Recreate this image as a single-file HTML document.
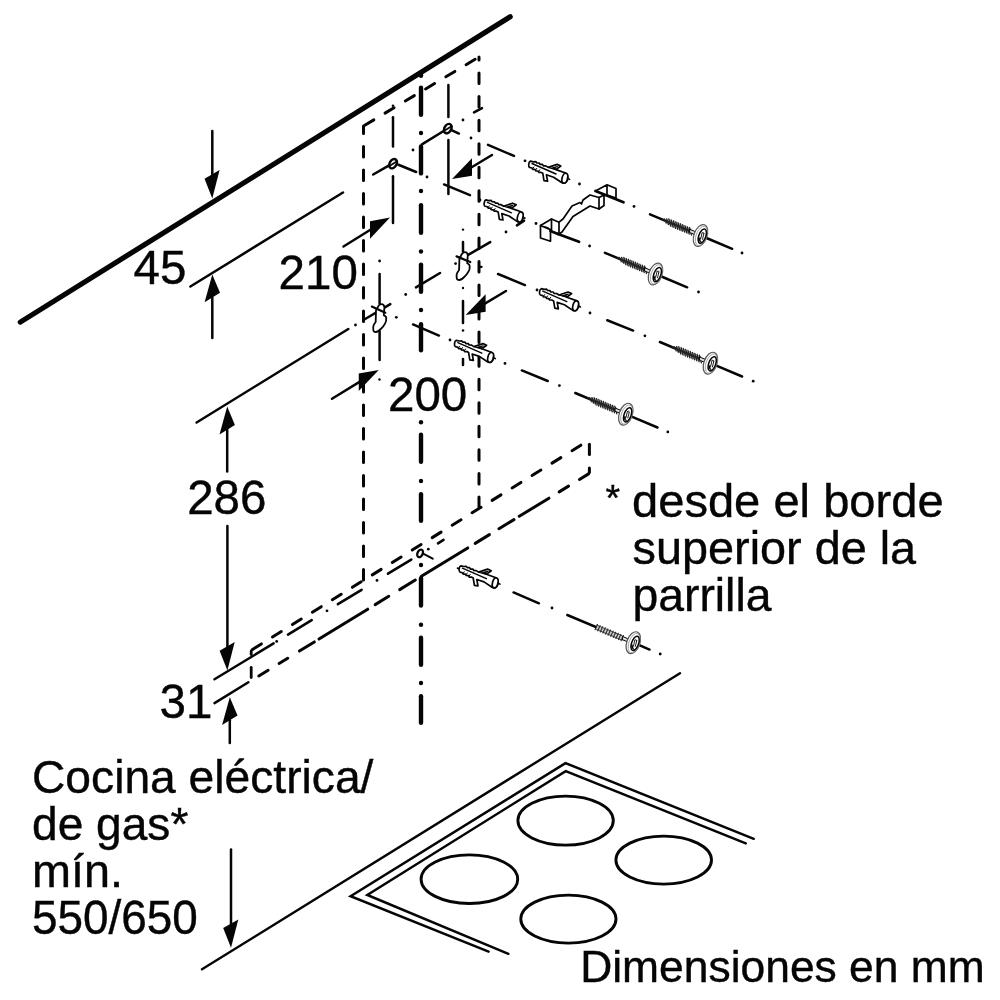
<!DOCTYPE html>
<html><head><meta charset="utf-8"><title>Dimensiones</title>
<style>
html,body{margin:0;padding:0;background:#fff;}
svg{display:block;will-change:transform;opacity:0.9999;}
text{font-family:"Liberation Sans",sans-serif;fill:#050505;stroke:#050505;stroke-width:0.4px;}
</style></head>
<body>
<svg width="1000" height="1000" viewBox="0 0 1000 1000">
<rect width="1000" height="1000" fill="#fff"/>
<line x1="20.30" y1="322.10" x2="510.20" y2="16.80" stroke="#050505" stroke-width="5.2" stroke-linecap="round" />
<line x1="190.40" y1="286.50" x2="343.00" y2="192.50" stroke="#050505" stroke-width="2.5" stroke-linecap="round" />
<line x1="212.30" y1="131.12" x2="212.30" y2="175.38" stroke="#050505" stroke-width="2.5" stroke-linecap="round" />
<polygon points="212.3,198.5 204.5,178.7 219.60000000000002,170.1" fill="#050505"/>
<line x1="212.30" y1="337.88" x2="212.30" y2="297.52" stroke="#050505" stroke-width="2.5" stroke-linecap="round" />
<polygon points="212.3,274.4 204.60000000000002,302.2 220.0,292.79999999999995" fill="#050505"/>
<text x="133.6" y="284" font-size="47.5">45</text>
<line x1="363.5" y1="126" x2="363.5" y2="581" stroke="#050505" stroke-width="3" stroke-linecap="round" stroke-dasharray="10.5 13" stroke-dashoffset="3"/>
<line x1="363.5" y1="126" x2="479" y2="57" stroke="#050505" stroke-width="3" stroke-linecap="round" stroke-dasharray="10.5 13.1" stroke-dashoffset="-1.5"/>
<line x1="479" y1="57" x2="479" y2="507" stroke="#050505" stroke-width="3" stroke-linecap="round" stroke-dasharray="10.5 13.05" stroke-dashoffset="7.5"/>
<line x1="421.00" y1="75.80" x2="421.00" y2="74.80" stroke="#050505" stroke-width="4.4" stroke-linecap="round" />
<line x1="421.00" y1="87.70" x2="421.00" y2="114.80" stroke="#050505" stroke-width="4.4" stroke-linecap="round" />
<line x1="421.00" y1="146.50" x2="421.00" y2="173.40" stroke="#050505" stroke-width="4.4" stroke-linecap="round" />
<line x1="421.00" y1="205.20" x2="421.00" y2="232.80" stroke="#050505" stroke-width="4.4" stroke-linecap="round" />
<line x1="421.00" y1="264.60" x2="421.00" y2="291.80" stroke="#050505" stroke-width="4.4" stroke-linecap="round" />
<line x1="421.00" y1="324.20" x2="421.00" y2="350.30" stroke="#050505" stroke-width="4.4" stroke-linecap="round" />
<line x1="421.00" y1="434.70" x2="421.00" y2="461.80" stroke="#050505" stroke-width="4.4" stroke-linecap="round" />
<line x1="421.00" y1="494.20" x2="421.00" y2="520.80" stroke="#050505" stroke-width="4.4" stroke-linecap="round" />
<line x1="421.00" y1="578.20" x2="421.00" y2="605.50" stroke="#050505" stroke-width="4.4" stroke-linecap="round" />
<line x1="421.00" y1="637.70" x2="421.00" y2="664.80" stroke="#050505" stroke-width="4.4" stroke-linecap="round" />
<line x1="421.00" y1="696.20" x2="421.00" y2="722.80" stroke="#050505" stroke-width="4.4" stroke-linecap="round" />
<circle cx="421" cy="133" r="2.2" fill="#050505"/>
<circle cx="421" cy="191" r="2.2" fill="#050505"/>
<circle cx="421" cy="251.5" r="2.2" fill="#050505"/>
<circle cx="421" cy="310" r="2.2" fill="#050505"/>
<circle cx="421" cy="422.3" r="2.2" fill="#050505"/>
<circle cx="421" cy="481" r="2.2" fill="#050505"/>
<circle cx="421" cy="565" r="2.2" fill="#050505"/>
<circle cx="421" cy="624.7" r="2.2" fill="#050505"/>
<circle cx="421" cy="683" r="2.2" fill="#050505"/>
<line x1="373.18" y1="174.54" x2="390.02" y2="164.86" stroke="#050505" stroke-width="2.5" stroke-linecap="round" />
<circle cx="413" cy="150" r="1.4" fill="#050505"/>
<line x1="421.96" y1="144.41" x2="444.04" y2="130.79" stroke="#050505" stroke-width="2.5" stroke-linecap="round" />
<circle cx="463" cy="120" r="1.4" fill="#050505"/>
<line x1="473.99" y1="112.47" x2="482.01" y2="108.13" stroke="#050505" stroke-width="2.5" stroke-linecap="round" />
<ellipse cx="393.1" cy="163.7" rx="3.4" ry="5.0" transform="rotate(30 393.1 163.7)" fill="#fff" stroke="#050505" stroke-width="2.5"/>
<ellipse cx="447.8" cy="128.6" rx="3.4" ry="5.0" transform="rotate(30 447.8 128.6)" fill="#fff" stroke="#050505" stroke-width="2.5"/>
<line x1="389.50" y1="165.90" x2="397.00" y2="161.30" stroke="#050505" stroke-width="1.8" stroke-linecap="round" />
<line x1="444.20" y1="130.80" x2="451.60" y2="126.30" stroke="#050505" stroke-width="1.8" stroke-linecap="round" />
<circle cx="393" cy="105.8" r="1.3" fill="#050505"/>
<line x1="393.00" y1="117.33" x2="393.00" y2="146.57" stroke="#050505" stroke-width="2.5" stroke-linecap="round" />
<line x1="393.00" y1="176.22" x2="393.00" y2="222.88" stroke="#050505" stroke-width="2.5" stroke-linecap="round" />
<line x1="448.40" y1="85.12" x2="448.40" y2="116.88" stroke="#050505" stroke-width="2.5" stroke-linecap="round" />
<line x1="448.40" y1="140.12" x2="448.40" y2="193.88" stroke="#050505" stroke-width="2.5" stroke-linecap="round" />
<line x1="398.44" y1="164.73" x2="416.16" y2="171.97" stroke="#050505" stroke-width="2.5" stroke-linecap="round" />
<circle cx="427" cy="177" r="1.4" fill="#050505"/>
<line x1="444.04" y1="184.43" x2="469.96" y2="195.17" stroke="#050505" stroke-width="2.5" stroke-linecap="round" />
<circle cx="480" cy="200" r="1.4" fill="#050505"/>
<line x1="452.03" y1="130.46" x2="458.97" y2="133.54" stroke="#050505" stroke-width="2.5" stroke-linecap="round" />
<circle cx="471" cy="138" r="1.4" fill="#050505"/>
<line x1="343.50" y1="246.50" x2="372.00" y2="228.73" stroke="#050505" stroke-width="2.5" stroke-linecap="round" />
<polygon points="390,217.5 370,221.2231182795699 370,238.7231182795699" fill="#050505"/>
<line x1="492.00" y1="155.00" x2="470.00" y2="168.20" stroke="#050505" stroke-width="2.5" stroke-linecap="round" />
<polygon points="452,179 472,158.25 472,175.75" fill="#050505"/>
<text x="278.6" y="289" font-size="47.5">210</text>
<line x1="196.60" y1="422.50" x2="348.30" y2="329.00" stroke="#050505" stroke-width="2.5" stroke-linecap="round" />
<circle cx="355.5" cy="325" r="1.4" fill="#050505"/>
<line x1="365.17" y1="319.03" x2="390.33" y2="304.07" stroke="#050505" stroke-width="2.5" stroke-linecap="round" />
<circle cx="396.3" cy="317.3" r="1.4" fill="#050505"/>
<circle cx="405.7" cy="294.5" r="1.4" fill="#050505"/>
<line x1="415.96" y1="287.42" x2="440.04" y2="272.98" stroke="#050505" stroke-width="2.5" stroke-linecap="round" />
<circle cx="455.6" cy="263.6" r="1.4" fill="#050505"/>
<line x1="468.57" y1="254.64" x2="490.23" y2="242.16" stroke="#050505" stroke-width="2.5" stroke-linecap="round" />
<circle cx="506" cy="232" r="1.4" fill="#050505"/>
<line x1="516.94" y1="225.38" x2="524.06" y2="220.62" stroke="#050505" stroke-width="2.5" stroke-linecap="round" />
<circle cx="379.6" cy="261" r="1.4" fill="#050505"/>
<line x1="379.60" y1="274.12" x2="379.60" y2="303.38" stroke="#050505" stroke-width="2.5" stroke-linecap="round" />
<line x1="379.60" y1="331.62" x2="379.60" y2="359.88" stroke="#050505" stroke-width="2.5" stroke-linecap="round" />
<circle cx="379.5" cy="379.5" r="1.2" fill="#050505"/>
<circle cx="463" cy="229.6" r="1.2" fill="#050505"/>
<line x1="463.00" y1="241.93" x2="463.00" y2="251.38" stroke="#050505" stroke-width="2.5" stroke-linecap="round" />
<circle cx="463" cy="288" r="1.2" fill="#050505"/>
<line x1="463.00" y1="301.12" x2="463.00" y2="322.88" stroke="#050505" stroke-width="2.5" stroke-linecap="round" />
<line x1="463.00" y1="359.12" x2="463.00" y2="364.88" stroke="#050505" stroke-width="2.5" stroke-linecap="round" />
<circle cx="463" cy="330.5" r="1.3" fill="#050505"/>
<g transform="translate(380 304)">
<path d="M-2.5,4 C-1.5,1 0.2,0.1 1.5,0.1 C3.2,0.1 4.2,1.5 4.4,3.4 L3.8,11.2 C5.5,12 6.5,13 6.2,14.2 C6.5,17 5.5,19 5,19.6 C3.5,22.5 2,24 0.8,25 C-1,26.8 -2.5,28 -4,28 C-6,28 -6.8,27 -6.7,25.6 C-6.9,24 -7,22.5 -6.4,21.4 C-5.8,20 -4.8,18.8 -4.3,17.8 L-4,6.4 C-3.8,5.4 -3,4.5 -2.5,4 Z" fill="#fff" stroke="#050505" stroke-width="1.8" stroke-linejoin="round" stroke-linecap="round" />
</g>
<g transform="translate(463.4 252)">
<path d="M-2.5,4 C-1.5,1 0.2,0.1 1.5,0.1 C3.2,0.1 4.2,1.5 4.4,3.4 L3.8,11.2 C5.5,12 6.5,13 6.2,14.2 C6.5,17 5.5,19 5,19.6 C3.5,22.5 2,24 0.8,25 C-1,26.8 -2.5,28 -4,28 C-6,28 -6.8,27 -6.7,25.6 C-6.9,24 -7,22.5 -6.4,21.4 C-5.8,20 -4.8,18.8 -4.3,17.8 L-4,6.4 C-3.8,5.4 -3,4.5 -2.5,4 Z" fill="#fff" stroke="#050505" stroke-width="1.8" stroke-linejoin="round" stroke-linecap="round" />
</g>
<line x1="371.80" y1="306.61" x2="385.30" y2="312.69" stroke="#050505" stroke-width="2.2" stroke-linecap="round" />
<line x1="456.52" y1="256.38" x2="470.28" y2="262.02" stroke="#050505" stroke-width="2.2" stroke-linecap="round" />
<line x1="479.99" y1="266.80" x2="481.61" y2="266.80" stroke="#050505" stroke-width="2.2" stroke-linecap="round" />
<line x1="413.03" y1="324.44" x2="438.97" y2="335.56" stroke="#050505" stroke-width="2.5" stroke-linecap="round" />
<circle cx="450" cy="340" r="1.4" fill="#050505"/>
<line x1="498.04" y1="274.03" x2="524.96" y2="285.07" stroke="#050505" stroke-width="2.5" stroke-linecap="round" />
<circle cx="537" cy="290" r="1.4" fill="#050505"/>
<line x1="332.00" y1="398.75" x2="360.75" y2="381.07" stroke="#050505" stroke-width="2.5" stroke-linecap="round" />
<polygon points="378.75,370 358.75,373.5494652406417 358.75,391.0494652406417" fill="#050505"/>
<line x1="506.00" y1="291.00" x2="483.60" y2="304.31" stroke="#050505" stroke-width="2.5" stroke-linecap="round" />
<polygon points="465.6,315 485.6,294.3688118811881 485.6,311.8688118811881" fill="#050505"/>
<text x="388" y="411" font-size="47.5">200</text>
<line x1="227.20" y1="471.38" x2="227.20" y2="429.73" stroke="#050505" stroke-width="2.5" stroke-linecap="round" />
<polygon points="227.2,406.6 219.5,434.40000000000003 234.89999999999998,425.0" fill="#050505"/>
<text x="187.2" y="514" font-size="47.5">286</text>
<line x1="227.40" y1="526.12" x2="227.40" y2="647.38" stroke="#050505" stroke-width="2.5" stroke-linecap="round" />
<polygon points="227.4,670.5 219.6,650.7 234.70000000000002,642.1" fill="#050505"/>
<line x1="214.50" y1="679.30" x2="273.60" y2="643.40" stroke="#050505" stroke-width="2.5" stroke-linecap="round" />
<line x1="214.50" y1="703.10" x2="248.40" y2="682.30" stroke="#050505" stroke-width="2.5" stroke-linecap="round" />
<text x="159.6" y="718" font-size="47.5">31</text>
<line x1="229.80" y1="742.88" x2="229.80" y2="720.33" stroke="#050505" stroke-width="2.5" stroke-linecap="round" />
<polygon points="229.8,697.2 222.10000000000002,725.0 237.5,715.6" fill="#050505"/>
<line x1="252.47" y1="649.41" x2="261.32" y2="643.90" stroke="#050505" stroke-width="3" stroke-linecap="round" />
<line x1="272.44" y1="636.99" x2="281.29" y2="631.48" stroke="#050505" stroke-width="3" stroke-linecap="round" />
<line x1="292.41" y1="624.57" x2="301.26" y2="619.06" stroke="#050505" stroke-width="3" stroke-linecap="round" />
<line x1="312.38" y1="612.15" x2="321.24" y2="606.65" stroke="#050505" stroke-width="3" stroke-linecap="round" />
<line x1="332.35" y1="599.73" x2="341.20" y2="594.23" stroke="#050505" stroke-width="3" stroke-linecap="round" />
<line x1="352.32" y1="587.31" x2="361.17" y2="581.81" stroke="#050505" stroke-width="3" stroke-linecap="round" />
<line x1="372.29" y1="574.89" x2="381.14" y2="569.39" stroke="#050505" stroke-width="3" stroke-linecap="round" />
<line x1="392.26" y1="562.47" x2="401.12" y2="556.97" stroke="#050505" stroke-width="3" stroke-linecap="round" />
<line x1="412.23" y1="550.05" x2="421.08" y2="544.55" stroke="#050505" stroke-width="3" stroke-linecap="round" />
<line x1="432.20" y1="537.63" x2="441.05" y2="532.13" stroke="#050505" stroke-width="3" stroke-linecap="round" />
<line x1="452.17" y1="525.21" x2="461.02" y2="519.71" stroke="#050505" stroke-width="3" stroke-linecap="round" />
<line x1="472.14" y1="512.79" x2="481.00" y2="507.29" stroke="#050505" stroke-width="3" stroke-linecap="round" />
<line x1="492.11" y1="500.37" x2="500.96" y2="494.87" stroke="#050505" stroke-width="3" stroke-linecap="round" />
<line x1="512.09" y1="487.96" x2="520.94" y2="482.45" stroke="#050505" stroke-width="3" stroke-linecap="round" />
<line x1="532.05" y1="475.54" x2="540.90" y2="470.03" stroke="#050505" stroke-width="3" stroke-linecap="round" />
<line x1="552.02" y1="463.12" x2="560.88" y2="457.61" stroke="#050505" stroke-width="3" stroke-linecap="round" />
<line x1="572.00" y1="450.70" x2="580.85" y2="445.19" stroke="#050505" stroke-width="3" stroke-linecap="round" />
<line x1="589.40" y1="444.30" x2="589.40" y2="454.60" stroke="#050505" stroke-width="3" stroke-linecap="round" />
<line x1="589.40" y1="468.10" x2="589.40" y2="472.60" stroke="#050505" stroke-width="3" stroke-linecap="round" />
<line x1="251.20" y1="651.00" x2="251.20" y2="654.50" stroke="#050505" stroke-width="2.8" stroke-linecap="round" />
<line x1="251.20" y1="667.50" x2="251.20" y2="677.50" stroke="#050505" stroke-width="2.8" stroke-linecap="round" />
<line x1="258.77" y1="675.97" x2="268.12" y2="670.24" stroke="#050505" stroke-width="3" stroke-linecap="round" />
<line x1="279.07" y1="663.53" x2="287.73" y2="658.23" stroke="#050505" stroke-width="3" stroke-linecap="round" />
<line x1="299.38" y1="651.09" x2="314.33" y2="641.93" stroke="#050505" stroke-width="3" stroke-linecap="round" />
<line x1="318.97" y1="639.08" x2="367.73" y2="609.20" stroke="#050505" stroke-width="3" stroke-linecap="round" />
<line x1="375.17" y1="604.64" x2="388.73" y2="596.33" stroke="#050505" stroke-width="3" stroke-linecap="round" />
<line x1="399.67" y1="589.62" x2="415.33" y2="580.03" stroke="#050505" stroke-width="3" stroke-linecap="round" />
<line x1="421.38" y1="576.33" x2="467.73" y2="547.92" stroke="#050505" stroke-width="3" stroke-linecap="round" />
<line x1="475.17" y1="543.36" x2="489.43" y2="534.63" stroke="#050505" stroke-width="3" stroke-linecap="round" />
<line x1="498.97" y1="528.77" x2="513.93" y2="519.61" stroke="#050505" stroke-width="3" stroke-linecap="round" />
<line x1="519.27" y1="516.33" x2="548.93" y2="498.16" stroke="#050505" stroke-width="3" stroke-linecap="round" />
<line x1="559.17" y1="491.88" x2="568.52" y2="486.15" stroke="#050505" stroke-width="3" stroke-linecap="round" />
<line x1="579.48" y1="479.44" x2="588.52" y2="473.90" stroke="#050505" stroke-width="3" stroke-linecap="round" />
<line x1="288.00" y1="634.57" x2="311.69" y2="620.16" stroke="#050505" stroke-width="2.6" stroke-linecap="round" />
<line x1="337.91" y1="604.21" x2="361.59" y2="589.79" stroke="#050505" stroke-width="2.6" stroke-linecap="round" />
<line x1="388.00" y1="573.72" x2="411.29" y2="559.55" stroke="#050505" stroke-width="2.6" stroke-linecap="round" />
<line x1="438.00" y1="543.30" x2="443.50" y2="539.96" stroke="#050505" stroke-width="2.6" stroke-linecap="round" />
<circle cx="276.7" cy="641.4513" r="1.4" fill="#050505"/>
<circle cx="327" cy="610.84375" r="1.4" fill="#050505"/>
<circle cx="377" cy="580.4187499999999" r="1.4" fill="#050505"/>
<circle cx="428.3" cy="549.2026999999999" r="1.4" fill="#050505"/>
<ellipse cx="420.1" cy="553.4" rx="2.6" ry="4.0" transform="rotate(25 420.1 553.4)" fill="#fff" stroke="#050505" stroke-width="2.3"/>
<line x1="423.60" y1="553.80" x2="432.70" y2="558.70" stroke="#050505" stroke-width="2" stroke-linecap="round" />
<line x1="488.03" y1="144.84" x2="513.97" y2="155.96" stroke="#050505" stroke-width="2.5" stroke-linecap="round" />
<circle cx="525" cy="160.8" r="1.4" fill="#050505"/>
<g transform="translate(528.4 164.4)">
<path d="M2.1,-3.3 C0.2,-2.6 -0.4,2.2 1.2,3.0 L3.6,3.6 L4.4,5 L6.6,5 L7.4,6.4 L9.6,6.6 L10.4,8 L12.6,8 L14.4,8.9 L15.6,16.2 L19.2,16.8 L18.0,10.4 L25.2,12.8 L33.6,18.4 C36.5,19.6 39.6,17 39.4,13.5 C39.3,10.8 38.6,9.2 37.2,8.6 L27.6,5.2 L32.4,1.6 L28.8,0 L19.8,3.0 L17.4,1.5 L15,1.4 L14,0 L11.6,0 L10.8,-1.4 L8.4,-1.5 L7.4,-2.8 L5,-2.6 Z" fill="#fff" stroke="#050505" stroke-width="1.7" stroke-linejoin="round" stroke-linecap="round" />
<ellipse cx="36.4" cy="13.8" rx="2.7" ry="5.1" transform="rotate(14 36.4 13.8)" fill="#fff" stroke="#050505" stroke-width="1.7"/>
<path d="M3.6,-0.9 L27.6,9.6" fill="none" stroke="#050505" stroke-width="1.4" stroke-linejoin="round" stroke-linecap="round" />
<path d="M19.8,3.0 L27.6,5.2 M24,3.6 L29,2.2" fill="none" stroke="#050505" stroke-width="1.2" stroke-linejoin="round" stroke-linecap="round" />
<path d="M23.5,4 L27.6,5.2 L27.4,3.4 Z" fill="#050505" stroke="#050505" stroke-width="0.8" stroke-linejoin="round" stroke-linecap="round" />
<path d="M4.6,3.9 L5.4,2.6 M7.6,5.2 L8.4,3.9 M10.6,6.6 L11.4,5.3" fill="none" stroke="#050505" stroke-width="1" stroke-linejoin="round" stroke-linecap="round" />
<path d="M39.4,14 L41.2,15" fill="none" stroke="#050505" stroke-width="1.6" stroke-linejoin="round" stroke-linecap="round" />
</g>
<circle cx="579.5" cy="184" r="1.4" fill="#050505"/>
<circle cx="634" cy="206.4" r="1.4" fill="#050505"/>
<g transform="translate(700.5 235.5)">
<line x1="-50.50" y1="-21.21" x2="-8.00" y2="-3.36" stroke="#050505" stroke-width="2.5" stroke-linecap="round" />
<line x1="6.50" y1="2.73" x2="31.70" y2="13.31" stroke="#050505" stroke-width="2.5" stroke-linecap="round" />
<line x1="-34.5" y1="-14.49" x2="-10.0" y2="-4.2" stroke="#555" stroke-width="5.6" opacity="0.5"/>
<path d="M-38.50,-16.65 L-36.50,-14.85 M-36.21,-16.65 L-34.21,-12.92 M-33.92,-16.66 L-31.92,-10.99 M-31.62,-16.66 L-29.62,-9.06 M-29.33,-15.70 L-27.33,-8.10 M-27.04,-14.74 L-25.04,-7.14 M-24.75,-13.77 L-22.75,-6.17 M-22.46,-12.81 L-20.46,-5.21 M-20.17,-11.85 L-18.17,-4.25 M-17.88,-10.89 L-15.88,-3.29 M-15.58,-9.92 L-13.58,-2.32 M-13.29,-8.96 L-11.29,-1.36 M-11.00,-8.00 L-9.00,-0.40 " stroke="#222" stroke-width="1.25" fill="none" stroke-linecap="round"/>
<path d="M-10.5,-6.1 L-4.5,-3.6 L-4.5,-0.4 L-10.5,-2.8 Z" fill="#ddd" stroke="#050505" stroke-width="1.0" stroke-linejoin="round" stroke-linecap="round" />
<ellipse cx="0" cy="0" rx="6.5" ry="11.4" transform="rotate(20)" fill="#fff" stroke="#555" stroke-width="1.2"/>
<ellipse cx="0.9" cy="0.1" rx="5.2" ry="10.1" transform="rotate(20)" fill="none" stroke="#999" stroke-width="0.8"/>
<ellipse cx="1.9" cy="0.0" rx="3.5" ry="7.5" transform="rotate(20)" fill="#fff" stroke="#050505" stroke-width="1.5"/>
<path d="M-1.6,2.6 C-1.9,5.2 -0.8,7 0.9,6.6 C-0.2,5.6 -0.6,4.4 -0.2,2.8 Z" fill="#050505" stroke="#050505" stroke-width="0.6" stroke-linejoin="round" stroke-linecap="round" />
<path d="M1.6,-2.6 L0.2,3.2 M3.4,-2.0 L2.0,3.8 M1.6,-2.6 C2.2,-3.6 3.4,-3.2 3.4,-2.0" fill="none" stroke="#050505" stroke-width="0.9" stroke-linejoin="round" stroke-linecap="round" />
</g>
<circle cx="742" cy="253" r="1.4" fill="#050505"/>
<g transform="translate(483.8 203.2)">
<path d="M2.1,-3.3 C0.2,-2.6 -0.4,2.2 1.2,3.0 L3.6,3.6 L4.4,5 L6.6,5 L7.4,6.4 L9.6,6.6 L10.4,8 L12.6,8 L14.4,8.9 L15.6,16.2 L19.2,16.8 L18.0,10.4 L25.2,12.8 L33.6,18.4 C36.5,19.6 39.6,17 39.4,13.5 C39.3,10.8 38.6,9.2 37.2,8.6 L27.6,5.2 L32.4,1.6 L28.8,0 L19.8,3.0 L17.4,1.5 L15,1.4 L14,0 L11.6,0 L10.8,-1.4 L8.4,-1.5 L7.4,-2.8 L5,-2.6 Z" fill="#fff" stroke="#050505" stroke-width="1.7" stroke-linejoin="round" stroke-linecap="round" />
<ellipse cx="36.4" cy="13.8" rx="2.7" ry="5.1" transform="rotate(14 36.4 13.8)" fill="#fff" stroke="#050505" stroke-width="1.7"/>
<path d="M3.6,-0.9 L27.6,9.6" fill="none" stroke="#050505" stroke-width="1.4" stroke-linejoin="round" stroke-linecap="round" />
<path d="M19.8,3.0 L27.6,5.2 M24,3.6 L29,2.2" fill="none" stroke="#050505" stroke-width="1.2" stroke-linejoin="round" stroke-linecap="round" />
<path d="M23.5,4 L27.6,5.2 L27.4,3.4 Z" fill="#050505" stroke="#050505" stroke-width="0.8" stroke-linejoin="round" stroke-linecap="round" />
<path d="M4.6,3.9 L5.4,2.6 M7.6,5.2 L8.4,3.9 M10.6,6.6 L11.4,5.3" fill="none" stroke="#050505" stroke-width="1" stroke-linejoin="round" stroke-linecap="round" />
<path d="M39.4,14 L41.2,15" fill="none" stroke="#050505" stroke-width="1.6" stroke-linejoin="round" stroke-linecap="round" />
</g>
<circle cx="536" cy="223.5" r="1.4" fill="#050505"/>
<line x1="558.00" y1="234.00" x2="579.00" y2="241.80" stroke="#050505" stroke-width="2.8" stroke-linecap="round" />
<circle cx="589.6" cy="246" r="1.4" fill="#050505"/>
<g transform="translate(655.5 274)">
<line x1="-50.50" y1="-21.21" x2="-8.00" y2="-3.36" stroke="#050505" stroke-width="2.5" stroke-linecap="round" />
<line x1="6.50" y1="2.73" x2="31.70" y2="13.31" stroke="#050505" stroke-width="2.5" stroke-linecap="round" />
<line x1="-34.5" y1="-14.49" x2="-10.0" y2="-4.2" stroke="#555" stroke-width="5.6" opacity="0.5"/>
<path d="M-38.50,-16.65 L-36.50,-14.85 M-36.21,-16.65 L-34.21,-12.92 M-33.92,-16.66 L-31.92,-10.99 M-31.62,-16.66 L-29.62,-9.06 M-29.33,-15.70 L-27.33,-8.10 M-27.04,-14.74 L-25.04,-7.14 M-24.75,-13.77 L-22.75,-6.17 M-22.46,-12.81 L-20.46,-5.21 M-20.17,-11.85 L-18.17,-4.25 M-17.88,-10.89 L-15.88,-3.29 M-15.58,-9.92 L-13.58,-2.32 M-13.29,-8.96 L-11.29,-1.36 M-11.00,-8.00 L-9.00,-0.40 " stroke="#222" stroke-width="1.25" fill="none" stroke-linecap="round"/>
<path d="M-10.5,-6.1 L-4.5,-3.6 L-4.5,-0.4 L-10.5,-2.8 Z" fill="#ddd" stroke="#050505" stroke-width="1.0" stroke-linejoin="round" stroke-linecap="round" />
<ellipse cx="0" cy="0" rx="6.5" ry="11.4" transform="rotate(20)" fill="#fff" stroke="#555" stroke-width="1.2"/>
<ellipse cx="0.9" cy="0.1" rx="5.2" ry="10.1" transform="rotate(20)" fill="none" stroke="#999" stroke-width="0.8"/>
<ellipse cx="1.9" cy="0.0" rx="3.5" ry="7.5" transform="rotate(20)" fill="#fff" stroke="#050505" stroke-width="1.5"/>
<path d="M-1.6,2.6 C-1.9,5.2 -0.8,7 0.9,6.6 C-0.2,5.6 -0.6,4.4 -0.2,2.8 Z" fill="#050505" stroke="#050505" stroke-width="0.6" stroke-linejoin="round" stroke-linecap="round" />
<path d="M1.6,-2.6 L0.2,3.2 M3.4,-2.0 L2.0,3.8 M1.6,-2.6 C2.2,-3.6 3.4,-3.2 3.4,-2.0" fill="none" stroke="#050505" stroke-width="0.9" stroke-linejoin="round" stroke-linecap="round" />
</g>
<circle cx="698.5" cy="292" r="1.4" fill="#050505"/>
<g transform="translate(539.2 292)">
<path d="M2.1,-3.3 C0.2,-2.6 -0.4,2.2 1.2,3.0 L3.6,3.6 L4.4,5 L6.6,5 L7.4,6.4 L9.6,6.6 L10.4,8 L12.6,8 L14.4,8.9 L15.6,16.2 L19.2,16.8 L18.0,10.4 L25.2,12.8 L33.6,18.4 C36.5,19.6 39.6,17 39.4,13.5 C39.3,10.8 38.6,9.2 37.2,8.6 L27.6,5.2 L32.4,1.6 L28.8,0 L19.8,3.0 L17.4,1.5 L15,1.4 L14,0 L11.6,0 L10.8,-1.4 L8.4,-1.5 L7.4,-2.8 L5,-2.6 Z" fill="#fff" stroke="#050505" stroke-width="1.7" stroke-linejoin="round" stroke-linecap="round" />
<ellipse cx="36.4" cy="13.8" rx="2.7" ry="5.1" transform="rotate(14 36.4 13.8)" fill="#fff" stroke="#050505" stroke-width="1.7"/>
<path d="M3.6,-0.9 L27.6,9.6" fill="none" stroke="#050505" stroke-width="1.4" stroke-linejoin="round" stroke-linecap="round" />
<path d="M19.8,3.0 L27.6,5.2 M24,3.6 L29,2.2" fill="none" stroke="#050505" stroke-width="1.2" stroke-linejoin="round" stroke-linecap="round" />
<path d="M23.5,4 L27.6,5.2 L27.4,3.4 Z" fill="#050505" stroke="#050505" stroke-width="0.8" stroke-linejoin="round" stroke-linecap="round" />
<path d="M4.6,3.9 L5.4,2.6 M7.6,5.2 L8.4,3.9 M10.6,6.6 L11.4,5.3" fill="none" stroke="#050505" stroke-width="1" stroke-linejoin="round" stroke-linecap="round" />
<path d="M39.4,14 L41.2,15" fill="none" stroke="#050505" stroke-width="1.6" stroke-linejoin="round" stroke-linecap="round" />
</g>
<circle cx="590" cy="313" r="1.4" fill="#050505"/>
<g transform="translate(454.2 343.6)">
<path d="M2.1,-3.3 C0.2,-2.6 -0.4,2.2 1.2,3.0 L3.6,3.6 L4.4,5 L6.6,5 L7.4,6.4 L9.6,6.6 L10.4,8 L12.6,8 L14.4,8.9 L15.6,16.2 L19.2,16.8 L18.0,10.4 L25.2,12.8 L33.6,18.4 C36.5,19.6 39.6,17 39.4,13.5 C39.3,10.8 38.6,9.2 37.2,8.6 L27.6,5.2 L32.4,1.6 L28.8,0 L19.8,3.0 L17.4,1.5 L15,1.4 L14,0 L11.6,0 L10.8,-1.4 L8.4,-1.5 L7.4,-2.8 L5,-2.6 Z" fill="#fff" stroke="#050505" stroke-width="1.7" stroke-linejoin="round" stroke-linecap="round" />
<ellipse cx="36.4" cy="13.8" rx="2.7" ry="5.1" transform="rotate(14 36.4 13.8)" fill="#fff" stroke="#050505" stroke-width="1.7"/>
<path d="M3.6,-0.9 L27.6,9.6" fill="none" stroke="#050505" stroke-width="1.4" stroke-linejoin="round" stroke-linecap="round" />
<path d="M19.8,3.0 L27.6,5.2 M24,3.6 L29,2.2" fill="none" stroke="#050505" stroke-width="1.2" stroke-linejoin="round" stroke-linecap="round" />
<path d="M23.5,4 L27.6,5.2 L27.4,3.4 Z" fill="#050505" stroke="#050505" stroke-width="0.8" stroke-linejoin="round" stroke-linecap="round" />
<path d="M4.6,3.9 L5.4,2.6 M7.6,5.2 L8.4,3.9 M10.6,6.6 L11.4,5.3" fill="none" stroke="#050505" stroke-width="1" stroke-linejoin="round" stroke-linecap="round" />
<path d="M39.4,14 L41.2,15" fill="none" stroke="#050505" stroke-width="1.6" stroke-linejoin="round" stroke-linecap="round" />
</g>
<circle cx="505" cy="363.4" r="1.4" fill="#050505"/>
<line x1="457.60" y1="568.20" x2="461.00" y2="569.60" stroke="#050505" stroke-width="1.8" stroke-linecap="round" />
<g transform="translate(458.8 569.1)">
<path d="M2.1,-3.3 C0.2,-2.6 -0.4,2.2 1.2,3.0 L3.6,3.6 L4.4,5 L6.6,5 L7.4,6.4 L9.6,6.6 L10.4,8 L12.6,8 L14.4,8.9 L15.6,16.2 L19.2,16.8 L18.0,10.4 L25.2,12.8 L33.6,18.4 C36.5,19.6 39.6,17 39.4,13.5 C39.3,10.8 38.6,9.2 37.2,8.6 L27.6,5.2 L32.4,1.6 L28.8,0 L19.8,3.0 L17.4,1.5 L15,1.4 L14,0 L11.6,0 L10.8,-1.4 L8.4,-1.5 L7.4,-2.8 L5,-2.6 Z" fill="#fff" stroke="#050505" stroke-width="1.7" stroke-linejoin="round" stroke-linecap="round" />
<ellipse cx="36.4" cy="13.8" rx="2.7" ry="5.1" transform="rotate(14 36.4 13.8)" fill="#fff" stroke="#050505" stroke-width="1.7"/>
<path d="M3.6,-0.9 L27.6,9.6" fill="none" stroke="#050505" stroke-width="1.4" stroke-linejoin="round" stroke-linecap="round" />
<path d="M19.8,3.0 L27.6,5.2 M24,3.6 L29,2.2" fill="none" stroke="#050505" stroke-width="1.2" stroke-linejoin="round" stroke-linecap="round" />
<path d="M23.5,4 L27.6,5.2 L27.4,3.4 Z" fill="#050505" stroke="#050505" stroke-width="0.8" stroke-linejoin="round" stroke-linecap="round" />
<path d="M4.6,3.9 L5.4,2.6 M7.6,5.2 L8.4,3.9 M10.6,6.6 L11.4,5.3" fill="none" stroke="#050505" stroke-width="1" stroke-linejoin="round" stroke-linecap="round" />
<path d="M39.4,14 L41.2,15" fill="none" stroke="#050505" stroke-width="1.6" stroke-linejoin="round" stroke-linecap="round" />
</g>
<line x1="513.53" y1="592.44" x2="538.97" y2="603.31" stroke="#050505" stroke-width="2.5" stroke-linecap="round" />
<circle cx="552" cy="608" r="1.4" fill="#050505"/>
<line x1="607.24" y1="320.22" x2="633.16" y2="330.58" stroke="#050505" stroke-width="2.5" stroke-linecap="round" />
<circle cx="644.9" cy="335.8" r="1.4" fill="#050505"/>
<g transform="translate(710.4 363.2)">
<line x1="-50.50" y1="-21.21" x2="-8.00" y2="-3.36" stroke="#050505" stroke-width="2.5" stroke-linecap="round" />
<line x1="6.50" y1="2.73" x2="31.70" y2="13.31" stroke="#050505" stroke-width="2.5" stroke-linecap="round" />
<line x1="-34.5" y1="-14.49" x2="-10.0" y2="-4.2" stroke="#555" stroke-width="5.6" opacity="0.5"/>
<path d="M-38.50,-16.65 L-36.50,-14.85 M-36.21,-16.65 L-34.21,-12.92 M-33.92,-16.66 L-31.92,-10.99 M-31.62,-16.66 L-29.62,-9.06 M-29.33,-15.70 L-27.33,-8.10 M-27.04,-14.74 L-25.04,-7.14 M-24.75,-13.77 L-22.75,-6.17 M-22.46,-12.81 L-20.46,-5.21 M-20.17,-11.85 L-18.17,-4.25 M-17.88,-10.89 L-15.88,-3.29 M-15.58,-9.92 L-13.58,-2.32 M-13.29,-8.96 L-11.29,-1.36 M-11.00,-8.00 L-9.00,-0.40 " stroke="#222" stroke-width="1.25" fill="none" stroke-linecap="round"/>
<path d="M-10.5,-6.1 L-4.5,-3.6 L-4.5,-0.4 L-10.5,-2.8 Z" fill="#ddd" stroke="#050505" stroke-width="1.0" stroke-linejoin="round" stroke-linecap="round" />
<ellipse cx="0" cy="0" rx="6.5" ry="11.4" transform="rotate(20)" fill="#fff" stroke="#555" stroke-width="1.2"/>
<ellipse cx="0.9" cy="0.1" rx="5.2" ry="10.1" transform="rotate(20)" fill="none" stroke="#999" stroke-width="0.8"/>
<ellipse cx="1.9" cy="0.0" rx="3.5" ry="7.5" transform="rotate(20)" fill="#fff" stroke="#050505" stroke-width="1.5"/>
<path d="M-1.6,2.6 C-1.9,5.2 -0.8,7 0.9,6.6 C-0.2,5.6 -0.6,4.4 -0.2,2.8 Z" fill="#050505" stroke="#050505" stroke-width="0.6" stroke-linejoin="round" stroke-linecap="round" />
<path d="M1.6,-2.6 L0.2,3.2 M3.4,-2.0 L2.0,3.8 M1.6,-2.6 C2.2,-3.6 3.4,-3.2 3.4,-2.0" fill="none" stroke="#050505" stroke-width="0.9" stroke-linejoin="round" stroke-linecap="round" />
</g>
<circle cx="753.2" cy="381.2" r="1.4" fill="#050505"/>
<line x1="521.84" y1="370.42" x2="547.76" y2="380.98" stroke="#050505" stroke-width="2.5" stroke-linecap="round" />
<circle cx="559.4" cy="385.6" r="1.4" fill="#050505"/>
<g transform="translate(625.8 414.2)">
<line x1="-50.50" y1="-21.21" x2="-8.00" y2="-3.36" stroke="#050505" stroke-width="2.5" stroke-linecap="round" />
<line x1="6.50" y1="2.73" x2="31.70" y2="13.31" stroke="#050505" stroke-width="2.5" stroke-linecap="round" />
<line x1="-34.5" y1="-14.49" x2="-10.0" y2="-4.2" stroke="#555" stroke-width="5.6" opacity="0.5"/>
<path d="M-38.50,-16.65 L-36.50,-14.85 M-36.21,-16.65 L-34.21,-12.92 M-33.92,-16.66 L-31.92,-10.99 M-31.62,-16.66 L-29.62,-9.06 M-29.33,-15.70 L-27.33,-8.10 M-27.04,-14.74 L-25.04,-7.14 M-24.75,-13.77 L-22.75,-6.17 M-22.46,-12.81 L-20.46,-5.21 M-20.17,-11.85 L-18.17,-4.25 M-17.88,-10.89 L-15.88,-3.29 M-15.58,-9.92 L-13.58,-2.32 M-13.29,-8.96 L-11.29,-1.36 M-11.00,-8.00 L-9.00,-0.40 " stroke="#222" stroke-width="1.25" fill="none" stroke-linecap="round"/>
<path d="M-10.5,-6.1 L-4.5,-3.6 L-4.5,-0.4 L-10.5,-2.8 Z" fill="#ddd" stroke="#050505" stroke-width="1.0" stroke-linejoin="round" stroke-linecap="round" />
<ellipse cx="0" cy="0" rx="6.5" ry="11.4" transform="rotate(20)" fill="#fff" stroke="#555" stroke-width="1.2"/>
<ellipse cx="0.9" cy="0.1" rx="5.2" ry="10.1" transform="rotate(20)" fill="none" stroke="#999" stroke-width="0.8"/>
<ellipse cx="1.9" cy="0.0" rx="3.5" ry="7.5" transform="rotate(20)" fill="#fff" stroke="#050505" stroke-width="1.5"/>
<path d="M-1.6,2.6 C-1.9,5.2 -0.8,7 0.9,6.6 C-0.2,5.6 -0.6,4.4 -0.2,2.8 Z" fill="#050505" stroke="#050505" stroke-width="0.6" stroke-linejoin="round" stroke-linecap="round" />
<path d="M1.6,-2.6 L0.2,3.2 M3.4,-2.0 L2.0,3.8 M1.6,-2.6 C2.2,-3.6 3.4,-3.2 3.4,-2.0" fill="none" stroke="#050505" stroke-width="0.9" stroke-linejoin="round" stroke-linecap="round" />
</g>
<circle cx="667.8" cy="431.9" r="1.4" fill="#050505"/>
<g transform="translate(633.3 642.7)">
<line x1="-66.00" y1="-27.72" x2="-8.00" y2="-3.36" stroke="#050505" stroke-width="2.5" stroke-linecap="round" />
<line x1="6.50" y1="2.73" x2="16.30" y2="6.85" stroke="#050505" stroke-width="2.5" stroke-linecap="round" />
<line x1="-37.0" y1="-15.54" x2="-11.0" y2="-4.62" stroke="#fff" stroke-width="5.4"/>
<line x1="-37.0" y1="-15.54" x2="-11.0" y2="-4.62" stroke="#777" stroke-width="5.4" opacity="0.35"/>
<path d="M-38.20,-12.94 L-35.80,-18.14 M-35.60,-11.85 L-33.20,-17.05 M-33.00,-10.76 L-30.60,-15.96 M-30.40,-9.66 L-28.00,-14.86 M-27.80,-8.57 L-25.40,-13.77 M-25.20,-7.48 L-22.80,-12.68 M-22.60,-6.39 L-20.20,-11.59 M-20.00,-5.30 L-17.60,-10.50 M-17.40,-4.20 L-15.00,-9.40 M-14.80,-3.11 L-12.40,-8.31 M-12.20,-2.02 L-9.80,-7.22 " stroke="#222" stroke-width="1.1" fill="none" stroke-linecap="round"/>
<path d="M-37.0,-17.740000000000002 L-11.0,-6.82 M-37.0,-13.34 L-11.0,-2.42" stroke="#333" stroke-width="0.9" fill="none"/>
<path d="M-10.5,-6.1 L-4.5,-3.6 L-4.5,-0.4 L-10.5,-2.8 Z" fill="#ddd" stroke="#050505" stroke-width="1.0" stroke-linejoin="round" stroke-linecap="round" />
<ellipse cx="0" cy="0" rx="6.5" ry="11.4" transform="rotate(20)" fill="#fff" stroke="#555" stroke-width="1.2"/>
<ellipse cx="0.9" cy="0.1" rx="5.2" ry="10.1" transform="rotate(20)" fill="none" stroke="#999" stroke-width="0.8"/>
<ellipse cx="1.9" cy="0.0" rx="3.5" ry="7.5" transform="rotate(20)" fill="#fff" stroke="#050505" stroke-width="1.5"/>
<path d="M-1.6,2.6 C-1.9,5.2 -0.8,7 0.9,6.6 C-0.2,5.6 -0.6,4.4 -0.2,2.8 Z" fill="#050505" stroke="#050505" stroke-width="0.6" stroke-linejoin="round" stroke-linecap="round" />
<path d="M1.6,-2.6 L0.2,3.2 M3.4,-2.0 L2.0,3.8 M1.6,-2.6 C2.2,-3.6 3.4,-3.2 3.4,-2.0" fill="none" stroke="#050505" stroke-width="0.9" stroke-linejoin="round" stroke-linecap="round" />
</g>
<circle cx="660.2" cy="654" r="1.4" fill="#050505"/>
<path d="M540.5,225.5 L540.5,238 L550.5,241.2 L550.5,229.6 Z" fill="#fff" stroke="#050505" stroke-width="1.7" stroke-linejoin="round" stroke-linecap="round" />
<path d="M540.5,225.5 L551.5,219 L559,222.2 L559,234" fill="none" stroke="#050505" stroke-width="1.7" stroke-linejoin="round" stroke-linecap="round" />
<path d="M551.5,219 L551.5,230" fill="none" stroke="#050505" stroke-width="1.7" stroke-linejoin="round" stroke-linecap="round" />
<path d="M545,227 L548,228" fill="none" stroke="#050505" stroke-width="1.7" stroke-linejoin="round" stroke-linecap="round" />
<path d="M559,222.2 L563,219 L572,206 L580,202.5 L581.5,204 L583,200 L590,195 L599,197.5 L599,209 L590,206 L573,216.5 L562,232 L559,234" fill="none" stroke="#050505" stroke-width="1.7" stroke-linejoin="round" stroke-linecap="round" />
<path d="M599,197.5 L604,195 L604,205.5 L599,209" fill="none" stroke="#050505" stroke-width="1.7" stroke-linejoin="round" stroke-linecap="round" />
<path d="M595.5,191 L607,184.8 L616,188.5 L616,198 L607,195 L607,184.8" fill="none" stroke="#050505" stroke-width="1.7" stroke-linejoin="round" stroke-linecap="round" />
<path d="M600,192.8 L603,194" fill="none" stroke="#050505" stroke-width="1.7" stroke-linejoin="round" stroke-linecap="round" />
<line x1="595.50" y1="191.00" x2="623.50" y2="202.20" stroke="#050505" stroke-width="2.8" stroke-linecap="round" />
<line x1="550.50" y1="231.00" x2="558.00" y2="234.00" stroke="#050505" stroke-width="2.8" stroke-linecap="round" />
<line x1="202.00" y1="969.30" x2="680.00" y2="673.20" stroke="#050505" stroke-width="2.4" stroke-linecap="round" />
<path d="M488.6,951.6 L350.6,896.2 L565.5,763.1 L753.8,838.8" fill="none" stroke="#050505" stroke-width="2.5" stroke-linejoin="miter" stroke-linecap="round"/>
<path d="M508.4,953.8 L367.3,895 L565.7,771.1 L745.8,843.4" fill="none" stroke="#050505" stroke-width="2.5" stroke-linejoin="miter" stroke-linecap="round"/>
<ellipse cx="565.6" cy="820.6" rx="47.7" ry="24.5" fill="none" stroke="#050505" stroke-width="2.9"/>
<ellipse cx="663.7" cy="860.1" rx="47.8" ry="24.0" fill="none" stroke="#050505" stroke-width="2.9"/>
<ellipse cx="469.4" cy="879.2" rx="48.3" ry="24.3" fill="none" stroke="#050505" stroke-width="2.9"/>
<ellipse cx="568.4" cy="919.1" rx="47.6" ry="24.0" fill="none" stroke="#050505" stroke-width="2.9"/>
<line x1="231.00" y1="849.42" x2="231.00" y2="924.67" stroke="#050505" stroke-width="2.5" stroke-linecap="round" />
<polygon points="231,947.8 223.2,928.0 238.3,919.4" fill="#050505"/>
<text x="32" y="793" font-size="46.2">Cocina eléctrica/</text>
<text x="32" y="840" font-size="46.1">de gas*</text>
<text x="32" y="887" font-size="46.8">mín.</text>
<text x="32" y="933.6" font-size="47.5" textLength="165.8" lengthAdjust="spacingAndGlyphs">550/650</text>
<text x="605.4" y="510.6" font-size="37.5">*</text>
<text x="632" y="517.2" font-size="47.1">desde el borde</text>
<text x="632.6" y="564.1" font-size="46.8">superior de la</text>
<text x="632.5" y="611.2" font-size="46.3">parrilla</text>
<text x="580.2" y="981.5" font-size="44.4">Dimensiones en mm</text>
</svg>
</body></html>
